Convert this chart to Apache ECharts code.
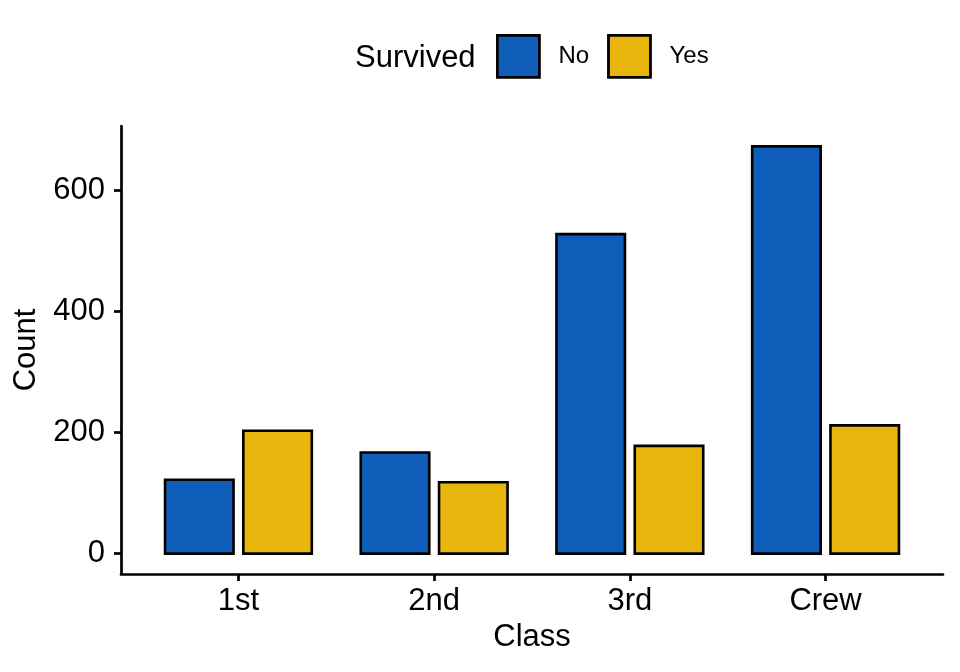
<!DOCTYPE html>
<html>
<head>
<meta charset="utf-8">
<script src="https://cdn.jsdelivr.net/npm/echarts@6/dist/echarts.min.js"></script>
<style>html,body{margin:0;padding:0;background:#fff;}#chart{width:960px;height:672px;}</style>
</head>
<body>
<div id="chart"></div>
<script>
const categories = ['1st', '2nd', '3rd', 'Crew'];
const noValues = [122, 167, 528, 673];
const yesValues = [203, 118, 178, 212];
const yTicks = [0, 200, 400, 600];
const seriesNames = ['No', 'Yes'];
const colors = ['#0E5DB8', '#E8B50C'];

const FONT = 'Liberation Sans, Arial, Helvetica, sans-serif';
const chart = echarts.init(document.getElementById('chart'));

function makeRender(offset, color) {
  return function (params, api) {
    const x = api.value(0), v = api.value(1);
    const p1 = api.coord([x + offset - 0.175, v]);
    const p2 = api.coord([x + offset + 0.175, 0]);
    return {
      type: 'rect',
      shape: { x: p1[0], y: p1[1], width: p2[0] - p1[0], height: p2[1] - p1[1] },
      style: { fill: color, stroke: '#000', lineWidth: 2.6 }
    };
  };
}

const seriesValues = [noValues, yesValues];
const offsets = [-0.2, 0.2];

chart.setOption({
  animation: false,
  backgroundColor: '#fff',
  textStyle: { fontFamily: FONT },
  grid: { left: 121, right: 17, top: 126, bottom: 98, containLabel: false },
  graphic: [{
    type: 'text', x: 355, y: 58,
    style: { text: 'Survived', fontSize: 31, fontFamily: FONT, fill: '#000', verticalAlign: 'middle' }
  }],
  legend: {
    left: 496, top: 34, padding: 0,
    icon: 'rect',
    itemWidth: 42, itemHeight: 42, itemGap: 18,
    itemStyle: { borderColor: '#000', borderWidth: 2.8 },
    textStyle: { fontSize: 24, color: '#000', fontFamily: FONT, padding: [9, 0, 0, 14] },
    data: seriesNames
  },
  xAxis: {
    type: 'value', min: 0.4, max: 4.6,
    name: 'Class', nameLocation: 'middle', nameGap: 34,
    nameTextStyle: { fontSize: 31, color: '#000', fontFamily: FONT },
    axisLine: { onZero: false, lineStyle: { color: '#000', width: 2.7 } },
    axisTick: { show: true, length: 7, lineStyle: { color: '#000', width: 2.7 }, customValues: [1, 2, 3, 4] },
    axisLabel: { fontSize: 31, color: '#000', fontFamily: FONT, margin: 12, customValues: [1, 2, 3, 4],
      formatter: v => categories[Math.round(v) - 1] || '' },
    splitLine: { show: false }
  },
  yAxis: {
    type: 'value', min: -33.65, max: 706.65,
    name: 'Count', nameLocation: 'middle', nameGap: 76, nameRotate: 90,
    nameTextStyle: { fontSize: 31, color: '#000', fontFamily: FONT },
    axisLine: { show: true, onZero: false, lineStyle: { color: '#000', width: 2.7 } },
    axisTick: { show: true, length: 7, lineStyle: { color: '#000', width: 2.7 }, customValues: yTicks },
    axisLabel: { fontSize: 31, color: '#000', fontFamily: FONT, margin: 16, customValues: yTicks },
    splitLine: { show: false }
  },
  series: seriesNames.map((name, s) => ({
    name: name,
    type: 'custom',
    itemStyle: { color: colors[s], borderColor: '#000', borderWidth: 2.8 },
    encode: { x: 0, y: 1 },
    renderItem: makeRender(offsets[s], colors[s]),
    data: categories.map((c, i) => [i + 1, seriesValues[s][i]])
  }))
});
</script>
</body>
</html>
